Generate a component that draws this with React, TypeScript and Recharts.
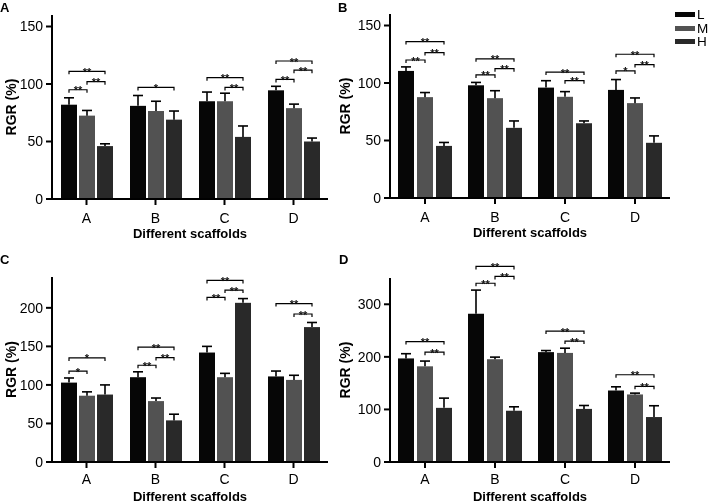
import React from 'react';
import { BarChart, Bar, XAxis, YAxis, Legend } from 'recharts';

const groups = ['A', 'B', 'C', 'D'];
const seriesNames = ['L', 'M', 'H'];
const seriesColors = ['#060606', '#525252', '#292929'];
const font = '"Liberation Sans", Arial, sans-serif';

// panel A
const aMeanL = [82, 81, 85, 94.5];
const aMeanM = [72.5, 76.5, 85, 79];
const aMeanH = [46, 69, 54, 50];
const aSdL = [6, 9, 8, 3.5];
const aSdM = [4.5, 8.5, 7, 3.5];
const aSdH = [2, 7.5, 9.5, 3];
const aBrackets: [string, string, string, number, string][] = [
  ['A', 'L', 'M', 95, '**'], ['A', 'M', 'H', 102, '**'], ['A', 'L', 'H', 111, '**'],
  ['B', 'L', 'H', 97, '*'],
  ['C', 'M', 'H', 97, '**'], ['C', 'L', 'H', 105.5, '**'],
  ['D', 'L', 'M', 104, '**'], ['D', 'M', 'H', 112, '**'], ['D', 'L', 'H', 120, '**'],
];

// panel B
const bMeanL = [110.5, 98, 96, 94];
const bMeanM = [87.7, 86.8, 88, 82.5];
const bMeanH = [45.3, 61, 65, 48];
const bSdL = [3.5, 2.5, 6, 9];
const bSdM = [4, 6.5, 4.5, 4.5];
const bSdH = [3, 6, 2, 6];
const bBrackets: [string, string, string, number, string][] = [
  ['A', 'L', 'M', 120, '**'], ['A', 'M', 'H', 126.5, '**'], ['A', 'L', 'H', 136, '**'],
  ['B', 'L', 'M', 107, '**'], ['B', 'M', 'H', 112.5, '**'], ['B', 'L', 'H', 121, '**'],
  ['C', 'M', 'H', 102, '**'], ['C', 'L', 'H', 109.5, '**'],
  ['D', 'L', 'M', 110.5, '*'], ['D', 'M', 'H', 116, '**'], ['D', 'L', 'H', 125, '**'],
];

// panel C
const cMeanL = [103, 110, 142, 111];
const cMeanM = [86, 79, 110, 106.5];
const cMeanH = [87.5, 54, 206.5, 175];
const cSdL = [6, 7, 8, 7];
const cSdM = [5, 4, 5, 6];
const cSdH = [12.5, 8, 5.5, 6];
const cBrackets: [string, string, string, number, string][] = [
  ['A', 'L', 'M', 118, '*'], ['A', 'L', 'H', 135, '*'],
  ['B', 'L', 'M', 125.5, '**'], ['B', 'M', 'H', 135.5, '**'], ['B', 'L', 'H', 149, '**'],
  ['C', 'L', 'M', 213.5, '**'], ['C', 'M', 'H', 223, '**'], ['C', 'L', 'H', 235.5, '**'],
  ['D', 'M', 'H', 192, '**'], ['D', 'L', 'H', 205.5, '**'],
];

// panel D
const dMeanL = [197, 282, 209, 136];
const dMeanM = [182, 195.5, 207.5, 128.5];
const dMeanH = [103, 97.5, 101, 85.5];
const dSdL = [9, 45, 3, 7];
const dSdM = [10, 4, 9, 2.5];
const dSdH = [18.5, 7.5, 6.5, 21.5];
const dBrackets: [string, string, string, number, string][] = [
  ['A', 'M', 'H', 209, '**'], ['A', 'L', 'H', 229, '**'],
  ['B', 'L', 'M', 340, '**'], ['B', 'M', 'H', 353, '**'], ['B', 'L', 'H', 372, '**'],
  ['C', 'M', 'H', 230, '**'], ['C', 'L', 'H', 249, '**'],
  ['D', 'M', 'H', 144, '**'], ['D', 'L', 'H', 166, '**'],
];

function buildRows(means: number[][], sds: number[][], brackets: [string, string, string, number, string][]) {
  return groups.map((g, i) => ({
    group: g,
    L: means[0][i], M: means[1][i], H: means[2][i],
    Lsd: sds[0][i], Msd: sds[1][i], Hsd: sds[2][i],
    brackets: brackets.filter((b) => b[0] === g),
  }));
}

const makeShape = (key: string, idx: number, gap: number) => (props: any) => {
  const { x, y, width, height, fill, payload } = props;
  const value = payload[key];
  const sd = payload[key + 'sd'];
  const perUnit = height / value;
  const base = y + height;
  const cx = x + width / 2;
  const errTop = y - sd * perUnit;
  const step = width + gap;
  return (
    <g>
      <rect x={x} y={y} width={width} height={height} fill={fill} />
      <line x1={cx} y1={y} x2={cx} y2={errTop} stroke="#000" strokeWidth={1.6} />
      <line x1={cx - 5} y1={errTop} x2={cx + 5} y2={errTop} stroke="#000" strokeWidth={1.6} />
      {idx === 0 &&
        payload.brackets.map((b: any, j: number) => {
          const x1 = x + seriesNames.indexOf(b[1]) * step + width / 2;
          const x2 = x + seriesNames.indexOf(b[2]) * step + width / 2;
          const yb = base - b[3] * perUnit;
          return (
            <g key={j}>
              <path d={`M${x1},${yb + 3}V${yb}H${x2}V${yb + 3}`} fill="none" stroke="#000" strokeWidth={1.2} />
              <text x={(x1 + x2) / 2} y={yb + 4.5} textAnchor="middle" fontSize={11} fontWeight="bold" fontFamily={font} fill="#111">
                {b[4]}
              </text>
            </g>
          );
        })}
    </g>
  );
};

const renderLegend = (props: any) => {
  const items = [...props.payload].sort((p: any, q: any) => seriesNames.indexOf(p.value) - seriesNames.indexOf(q.value));
  return (
    <div style={{ position: 'absolute', left: 340, top: 8, fontFamily: font }}>
      {items.map((p: any) => (
        <div key={p.value} style={{ display: 'flex', alignItems: 'center', height: 13.5, lineHeight: '13.5px' }}>
          <span style={{ display: 'inline-block', width: 20, height: 5, background: p.color, marginRight: 2 }} />
          <span style={{ fontSize: 13.5, color: '#000' }}>{p.value}</span>
        </div>
      ))}
    </div>
  );
};

const YTitle = (props: any) => {
  const { viewBox } = props;
  const x = viewBox.x + 6;
  const y = viewBox.y + viewBox.height / 2;
  return (
    <text x={x} y={y} transform={`rotate(-90 ${x} ${y})`} textAnchor="middle" dominantBaseline="central" fontFamily={font} fontWeight="bold" fontSize={14} fill="#000">
      RGR (%)
    </text>
  );
};

const makeXTitle = (drop: number) => (props: any) => {
  const { viewBox } = props;
  return (
    <text x={viewBox.x + viewBox.width / 2} y={viewBox.y + drop} textAnchor="middle" fontFamily={font} fontWeight="bold" fontSize={13} fill="#000">
      Different scaffolds
    </text>
  );
};

const axisStroke = { stroke: '#000', strokeWidth: 2 };
const tickStyle = { fill: '#000', fontSize: 14, fontFamily: font };

interface PanelProps {
  rows: any[];
  left: number;
  top: number;
  width: number;
  height: number;
  margin: { top: number; right: number; left: number; bottom: number };
  yWidth: number;
  domain: [number, number];
  ticks: number[];
  gap: number;
  tickGap: number;
  titleDrop: number;
  legend?: boolean;
}

const Panel = ({ rows, left, top, width, height, margin, yWidth, domain, ticks, gap, tickGap, titleDrop, legend }: PanelProps) => (
  <div style={{ position: 'absolute', left, top, willChange: 'transform' }}>
    <BarChart width={width} height={height} data={rows} margin={margin} barGap={gap} barSize={16}>
      <XAxis
        dataKey="group"
        axisLine={axisStroke}
        tickLine={axisStroke}
        tickSize={6}
        tickMargin={tickGap}
        height={40}
        tick={tickStyle}
        label={{ content: makeXTitle(titleDrop) }}
      />
      <YAxis
        domain={domain}
        ticks={ticks}
        width={yWidth}
        axisLine={axisStroke}
        tickLine={axisStroke}
        tickSize={6}
        tickMargin={3}
        tick={tickStyle}
        label={{ content: YTitle }}
      />
      {legend && <Legend content={renderLegend} wrapperStyle={{ left: 0, top: 0 }} />}
      {seriesNames.map((s, i) => (
        <Bar key={s} dataKey={s} name={s} fill={seriesColors[i]} shape={makeShape(s, i, gap)} isAnimationActive={false} />
      ))}
    </BarChart>
  </div>
);

const letterStyle: React.CSSProperties = { position: 'absolute', fontFamily: font, fontWeight: 'bold', fontSize: 13, lineHeight: '15px', color: '#000' };

export default function App() {
  const rowsA = buildRows([aMeanL, aMeanM, aMeanH], [aSdL, aSdM, aSdH], aBrackets);
  const rowsB = buildRows([bMeanL, bMeanM, bMeanH], [bSdL, bSdM, bSdH], bBrackets);
  const rowsC = buildRows([cMeanL, cMeanM, cMeanH], [cSdL, cSdM, cSdH], cBrackets);
  const rowsD = buildRows([dMeanL, dMeanM, dMeanH], [dSdL, dSdM, dSdH], dBrackets);
  return (
    <div style={{ position: 'absolute', left: 0, top: 0, width: 711, height: 502, background: '#fff', overflow: 'hidden' }}>
      <Panel rows={rowsA} left={0} top={0} width={335} height={250} margin={{ top: 15, right: 7, left: 5, bottom: 11 }} yWidth={47} domain={[0, 160]} ticks={[0, 50, 100, 150]} gap={2} tickGap={8} titleDrop={39} />
      <Panel rows={rowsB} left={335} top={0} width={376} height={250} margin={{ top: 14, right: 41, left: 4, bottom: 12 }} yWidth={51} domain={[0, 160]} ticks={[0, 50, 100, 150]} gap={3} tickGap={8} titleDrop={39} legend />
      <Panel rows={rowsC} left={0} top={250} width={335} height={252} margin={{ top: 27, right: 7, left: 5, bottom: 0 }} yWidth={47} domain={[0, 240]} ticks={[0, 50, 100, 150, 200]} gap={2} tickGap={6} titleDrop={39} />
      <Panel rows={rowsD} left={335} top={250} width={376} height={252} margin={{ top: 28, right: 41, left: 4, bottom: 0 }} yWidth={51} domain={[0, 350]} ticks={[0, 100, 200, 300]} gap={3} tickGap={6} titleDrop={39} />
      <div style={{ ...letterStyle, left: 0, top: 0 }}>A</div>
      <div style={{ ...letterStyle, left: 338, top: 0 }}>B</div>
      <div style={{ ...letterStyle, left: 0, top: 252 }}>C</div>
      <div style={{ ...letterStyle, left: 339, top: 252 }}>D</div>
    </div>
  );
}
